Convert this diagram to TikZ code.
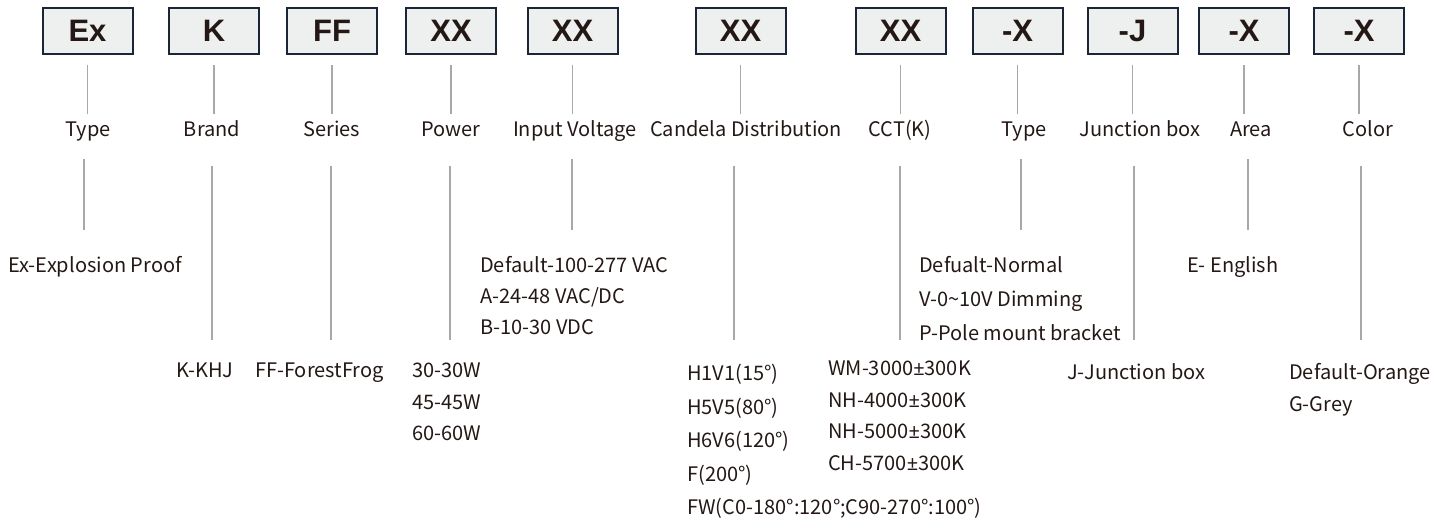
\documentclass[tikz,border=0pt]{standalone}
\usepackage{fontspec}
\setmainfont{Noto Sans CJK SC}
\newfontfamily\codefont{Liberation Sans}
\newfontfamily\pmfont{Noto Sans}
\newcommand{\pmsign}{{\pmfont ±}}
\usetikzlibrary{positioning}
\definecolor{boxline}{RGB}{27,37,56}
\definecolor{boxfill}{RGB}{238,240,239}
\definecolor{leadgray}{RGB}{168,168,168}
\definecolor{inkdark}{RGB}{35,24,21}

\begin{document}
\begin{tikzpicture}[x=1pt, y=-1pt,
  codebox/.style={draw=boxline, fill=boxfill, line width=2pt, minimum width=90pt, minimum height=46pt, inner sep=0pt, text=inkdark, font=\codefont\bfseries\fontsize{31}{31}\selectfont},
  tag/.style={anchor=base, inner sep=0pt, text=inkdark, font=\fontsize{20}{22}\selectfont},
  opt/.style={anchor=north west, inner sep=0pt, align=left, text=inkdark, font=\fontsize{20}{#1}\selectfont},
  opt/.default=31.5,
  lead/.style={draw=leadgray, line width=1.3pt}
]
  \useasboundingbox (0,0) rectangle (1449,520);

  % code boxes
  \node[codebox] (bEx)    at (87.5,30.5)  {Ex};
  \node[codebox] (bBrand) at (214,30.5)   {K};
  \node[codebox] (bSer)   at (332,30.5)   {FF};
  \node[codebox] (bPow)   at (451,30.5)   {XX};
  \node[codebox] (bVolt)  at (572.5,30.5) {XX};
  \node[codebox] (bCand)  at (740.5,30.5) {XX};
  \node[codebox] (bCct)   at (900.5,30.5) {XX};
  \node[codebox] (bType)  at (1017.5,30.5){-X};
  \node[codebox] (bJbox)  at (1132.5,30.5){-J};
  \node[codebox] (bArea)  at (1244,30.5)  {-X};
  \node[codebox] (bCol)   at (1359,30.5)  {-X};

  % field names
  \node[tag] (tEx)    at (88,136)   {Type};
  \node[tag] (tBrand) at (212,136)  {Brand};
  \node[tag] (tSer)   at (332,136)  {Series};
  \node[tag] (tPow)   at (451,136)  {Power};
  \node[tag] (tVolt)  at (575,136)  {Input Voltage};
  \node[tag] (tCand)  at (746,136)  {Candela Distribution};
  \node[tag] (tCct)   at (900,136)  {CCT(K)};
  \node[tag] (tType)  at (1024,136) {Type};
  \node[tag] (tJbox)  at (1140,136) {Junction box};
  \node[tag] (tArea)  at (1251,136) {Area};
  \node[tag] (tCol)   at (1368,136) {Color};

  % box to field name
  \foreach \b/\t in {bEx/tEx, bBrand/tBrand, bSer/tSer, bPow/tPow, bVolt/tVolt, bCand/tCand, bCct/tCct, bType/tType, bJbox/tJbox, bArea/tArea, bCol/tCol}
    \draw[lead] ([yshift=-10pt]\b.south) -- ([yshift=-59pt]\b.south);

  % lower ends of the leads
  \coordinate (eEx)    at (84,230);
  \coordinate (eBrand) at (212,340);
  \coordinate (eSer)   at (331,340);
  \coordinate (ePow)   at (450,340);
  \coordinate (eVolt)  at (572,230);
  \coordinate (eCand)  at (734,340);
  \coordinate (eCct)   at (900,340);
  \coordinate (eType)  at (1021,230);
  \coordinate (eJbox)  at (1134,340);
  \coordinate (eArea)  at (1248,230);
  \coordinate (eCol)   at (1361,340);

  \foreach \t/\e in {tEx/eEx, tVolt/eVolt, tType/eType, tArea/eArea}
    \draw[lead] ([yshift=-23pt]\e |- \t.base) -- (\e);
  \foreach \t/\e in {tBrand/eBrand, tSer/eSer, tPow/ePow, tCand/eCand, tCct/eCct, tJbox/eJbox, tCol/eCol}
    \draw[lead] ([yshift=-30pt]\e |- \t.base) -- (\e);

  % options, upper row
  \node[opt] (oEx)   at (8,256)    {Ex-Explosion Proof};
  \node[opt=31] (oVolt) at (480,256) {Default-100-277 VAC\\A-24-48 VAC/DC\\B-10-30 VDC};
  \node[opt=34] (oType) at (919,256) {Defualt-Normal\\V-0\textasciitilde10V Dimming\\P-Pole mount bracket};
  \node[opt]  (oArea) at (1187,256) {E- English};

  % options, lower row
  \node[opt]  (oBrand) at (176,363)  {K-KHJ};
  \node[opt]  (oSer)   at (255,363)  {FF-ForestFrog};
  \node[opt]  (oPow)   at (412,363)  {30-30W\\45-45W\\60-60W};
  \node[opt=33.5] (oCand) at (687,364) {H1V1(15°)\\H5V5(80°)\\H6V6(120°)\\F(200°)\\FW(C0-180°:120°;C90-270°:100°)};
  \node[opt]  (oCct)   at (828,361)  {WM-3000\pmsign300K\\NH-4000\pmsign300K\\NH-5000\pmsign300K\\CH-5700\pmsign300K};
  \node[opt]  (oJbox)  at (1067,363) {J-Junction box};
  \node[opt=32] (oCol) at (1289,363) {Default-Orange\\G-Grey};
\end{tikzpicture}
\end{document}
